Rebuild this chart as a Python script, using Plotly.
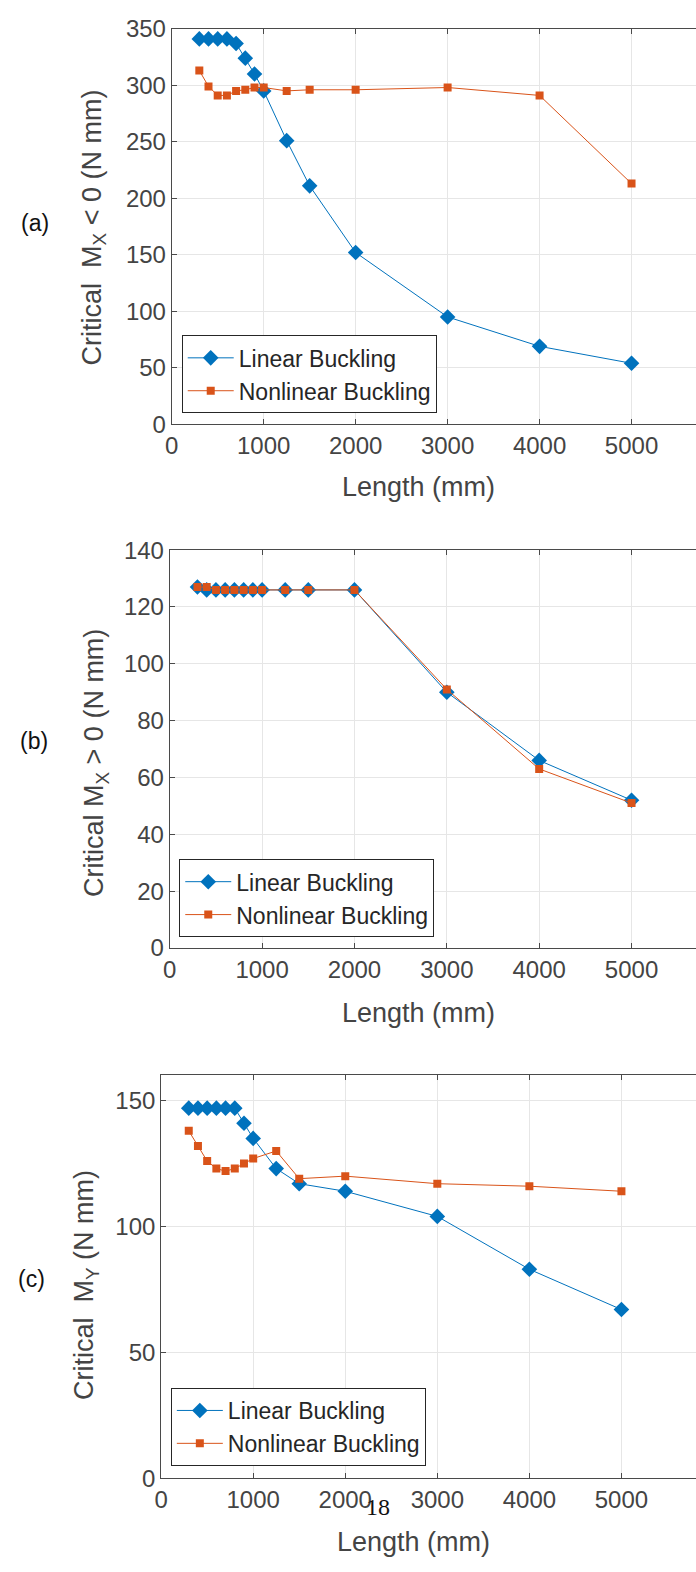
import plotly.graph_objects as go

W, H = 696, 1572

length = [300, 400, 500, 600, 700, 800, 900, 1000, 1250, 1500, 2000, 3000, 4000, 5000]

a_linear = [341, 341, 341, 341, 337, 324, 310, 295, 251, 211, 152, 95, 69, 54]
a_nonlinear = [313, 299, 291, 291, 295, 296, 298, 298, 295, 296, 296, 298, 291, 213]

b_linear = [127, 126, 126, 126, 126, 126, 126, 126, 126, 126, 126, 90, 66, 52]
b_nonlinear = [127, 127, 126, 126, 126, 126, 126, 126, 126, 126, 126, 91, 63, 51]

c_linear = [147, 147, 147, 147, 147, 147, 141, 135, 123, 117, 114, 104, 83, 67]
c_nonlinear = [138, 132, 126, 123, 122, 123, 125, 127, 130, 119, 120, 117, 116, 114]

series_names = ["Linear Buckling", "Nonlinear Buckling"]
panel_labels = ["(a)", "(b)", "(c)"]
y_titles = ["Critical  M<sub>X</sub> &lt; 0 (N mm)",
            "Critical M<sub>X</sub> &gt; 0 (N mm)",
            "Critical  M<sub>Y</sub> (N mm)"]
x_title = "Length (mm)"
x_ticks = [0, 1000, 2000, 3000, 4000, 5000]
y_ticks = [[0, 50, 100, 150, 200, 250, 300, 350],
           [0, 20, 40, 60, 80, 100, 120, 140],
           [0, 50, 100, 150]]
y_ranges = [[0, 350], [0, 140], [0, 160]]
page_number = "18"

BLUE = "#0072BD"
ORANGE = "#D95319"
FONT = "Liberation Sans, Arial, Helvetica, sans-serif"
AX = "#4a4a4a"
GRID = "#e6e6e6"
TXT = "#444444"

# pixel geometry for each panel: left, top, bottom, x-range max
panels = [
    dict(left=166.4, top=15.0, bottom=417.5, xmax=5701),
    dict(left=164.4, top=545.5, bottom=950.3, xmax=5698),
    dict(left=155.7, top=1080.0, bottom=1489.8, xmax=5810),
]
data = [(a_linear, a_nonlinear), (b_linear, b_nonlinear), (c_linear, c_nonlinear)]
legend_pos = [(176.5, 327.0), (174.0, 860.0), (165.5, 1398.0)]
ytitle_pos = [(88, 217), (90, 762), (80, 1293)]
label_pos = [(28, 213), (27, 740), (25, 1287)]
xtitle_pos = [(416, 481.7), (415.5, 1016.7), (411, 1555)]

fig = go.Figure()
annotations = []
layout = dict(
    width=W, height=H,
    margin=dict(l=0, r=0, t=0, b=0),
    paper_bgcolor="white", plot_bgcolor="white",
    font=dict(family=FONT, size=24, color=TXT),
    showlegend=True,
)

for i, (p, (lin, nonlin)) in enumerate(zip(panels, data)):
    k = "" if i == 0 else str(i + 1)
    xa, ya = "x" + k, "y" + k
    leg = "legend" + k
    fig.add_trace(go.Scatter(
        x=length, y=lin, name=series_names[0], mode="lines+markers",
        line=dict(color=BLUE, width=1),
        marker=dict(symbol="diamond", size=12, color=BLUE),
        xaxis=xa, yaxis=ya, legend=leg))
    fig.add_trace(go.Scatter(
        x=length, y=nonlin, name=series_names[1], mode="lines+markers",
        line=dict(color=ORANGE, width=1),
        marker=dict(symbol="square", size=8, color=ORANGE),
        xaxis=xa, yaxis=ya, legend=leg))

    layout["xaxis" + k] = dict(
        domain=[p["left"] / W, 1], range=[0, p["xmax"]], anchor=ya,
        tickvals=x_ticks, ticks="inside", ticklen=5, tickcolor=AX,
        showline=True, linecolor=AX, linewidth=1, mirror="ticks",
        showgrid=True, gridcolor=GRID, gridwidth=1, zeroline=False,
        tickfont=dict(size=24, color=TXT),
    )
    layout["yaxis" + k] = dict(
        domain=[1 - p["bottom"] / H, 1 - p["top"] / H], range=y_ranges[i], anchor=xa,
        tickvals=y_ticks[i], ticks="inside", ticklen=5, tickcolor=AX,
        showline=True, linecolor=AX, linewidth=1, mirror=False,
        showgrid=True, gridcolor=GRID, gridwidth=1, zeroline=False,
        tickfont=dict(size=24, color=TXT),
    )
    lx, ly = legend_pos[i]
    layout[leg] = dict(
        x=lx / W, y=1 - ly / H, xanchor="left", yanchor="top",
        bgcolor="white", bordercolor="#262626", borderwidth=1,
        font=dict(size=23, color="#262626", family=FONT),
        itemwidth=46, tracegroupgap=0,
    )
    tx, ty = ytitle_pos[i]
    annotations.append(dict(
        text=y_titles[i], x=tx / W, y=1 - ty / H, xref="paper", yref="paper",
        xanchor="center", yanchor="middle", textangle=-90, showarrow=False,
        font=dict(size=27, color=TXT, family=FONT)))
    px_, py_ = label_pos[i]
    annotations.append(dict(
        text=panel_labels[i], x=px_ / W, y=1 - py_ / H, xref="paper", yref="paper",
        xanchor="center", yanchor="middle", showarrow=False,
        font=dict(size=23, color="#111111", family=FONT)))
    xx, xy = xtitle_pos[i]
    annotations.append(dict(
        text=x_title, x=xx / W, y=1 - xy / H, xref="paper", yref="paper",
        xanchor="center", yanchor="middle", showarrow=False,
        font=dict(size=27, color=TXT, family=FONT)))

annotations.append(dict(
    text=page_number, x=375 / W, y=1 - 1519 / H, xref="paper", yref="paper",
    xanchor="center", yanchor="middle", showarrow=False,
    font=dict(size=24, color="#111111", family="Liberation Serif, DejaVu Serif, serif")))

layout["annotations"] = annotations
fig.update_layout(**layout)
fig.write_html("out.html")
